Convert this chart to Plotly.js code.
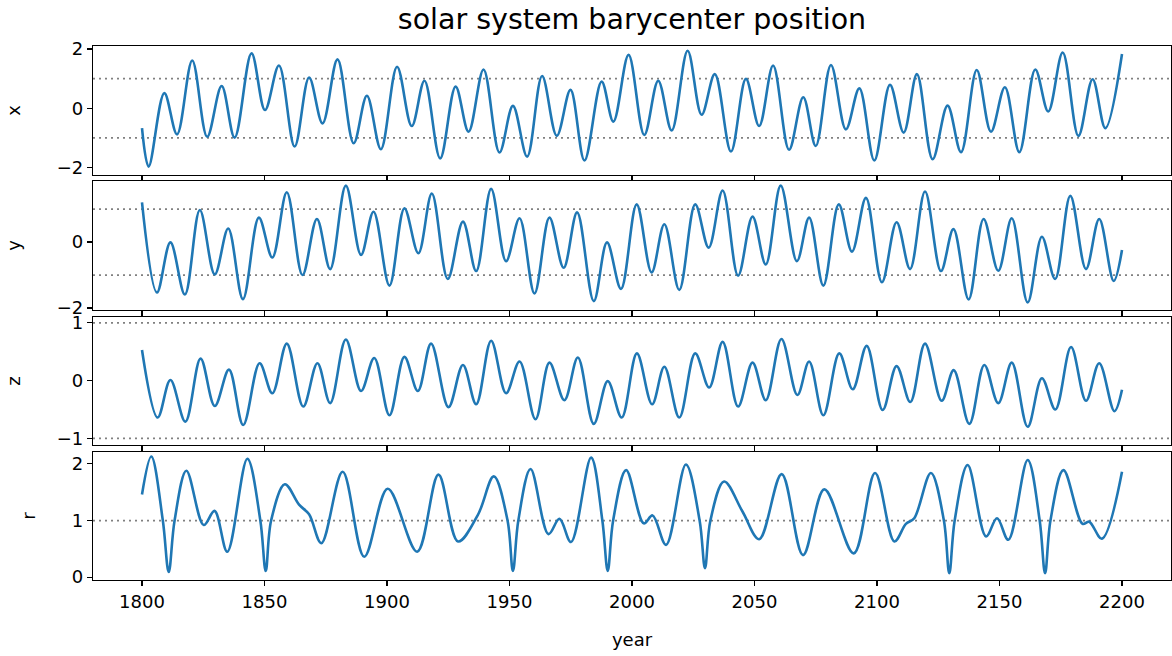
<!DOCTYPE html>
<html>
<head>
<meta charset="utf-8">
<script src="https://cdn.plot.ly/plotly-3.0.1.min.js"></script>
<style>html,body{margin:0;padding:0;background:#fff;}#chart{width:1172px;height:656px;}</style>
</head>
<body>
<div id="chart"></div>
<script>
// ---- data (year, value) ----
const xYears = [1800, 1802.7, 1809.1, 1814.3, 1820.5, 1826.6, 1832.5, 1837.8, 1844.7, 1850.2, 1855.9, 1862.3, 1868.2, 1873.7, 1879.8, 1886.4, 1891.8, 1897.5, 1904.1, 1910.1, 1915.3, 1921.7, 1928.0, 1933.3, 1939.4, 1945.9, 1951.4, 1957.2, 1963.3, 1969.3, 1974.9, 1980.6, 1987.6, 1992.4, 1998.6, 2005.0, 2010.7, 2016.2, 2022.7, 2028.4, 2033.8, 2040.4, 2046.5, 2051.9, 2057.6, 2064.1, 2069.9, 2075.0, 2081.2, 2087.3, 2092.8, 2098.9, 2105.3, 2110.9, 2116.3, 2122.7, 2128.8, 2134.3, 2140.7, 2146.5, 2152.2, 2158.1, 2164.6, 2169.9, 2175.8, 2182.2, 2188.0, 2193.2, 2200];
const xVals = [-0.67, -1.97, 0.51, -0.88, 1.61, -0.96, 0.75, -0.99, 1.85, -0.06, 1.44, -1.29, 1.04, -0.51, 1.65, -1.18, 0.42, -1.38, 1.40, -0.60, 0.93, -1.69, 0.73, -0.79, 1.31, -1.49, 0.08, -1.63, 1.09, -0.93, 0.62, -1.76, 0.90, -0.45, 1.80, -0.90, 0.93, -0.75, 1.94, -0.22, 1.15, -1.46, 0.99, -0.60, 1.44, -1.40, 0.37, -1.27, 1.46, -0.71, 0.67, -1.76, 0.79, -0.82, 1.15, -1.72, 0.09, -1.48, 1.29, -0.79, 0.71, -1.48, 1.31, -0.11, 1.88, -0.93, 0.98, -0.67, 1.83];

const yYears = [1800, 1806.1, 1811.6, 1817.5, 1823.6, 1829.7, 1835.2, 1841.2, 1847.7, 1853.2, 1859.1, 1865.5, 1871.4, 1876.8, 1883.2, 1889.4, 1894.5, 1901.0, 1907.1, 1912.8, 1918.3, 1924.8, 1931.0, 1936.4, 1942.5, 1948.6, 1954.1, 1960.2, 1966.3, 1972.1, 1977.6, 1984.4, 1989.8, 1995.5, 2001.9, 2008.0, 2013.2, 2019.3, 2025.8, 2031.3, 2037.0, 2043.3, 2049.2, 2054.6, 2060.7, 2067.3, 2072.3, 2078.1, 2084.4, 2089.8, 2095.5, 2102.0, 2108.0, 2113.5, 2119.6, 2126.1, 2131.2, 2137.4, 2143.5, 2149.5, 2155.0, 2161.5, 2167.3, 2172.7, 2178.9, 2185.3, 2190.7, 2196.6, 2200];
const yVals = [1.20, -1.53, -0.01, -1.59, 0.97, -0.98, 0.41, -1.73, 0.74, -0.47, 1.51, -1.00, 0.70, -0.82, 1.71, -0.39, 0.92, -1.32, 1.02, -0.34, 1.47, -1.12, 0.62, -0.88, 1.61, -0.58, 0.72, -1.56, 0.74, -0.78, 0.90, -1.79, -0.01, -1.42, 1.14, -0.92, 0.54, -1.45, 1.14, -0.17, 1.56, -1.02, 0.77, -0.68, 1.71, -0.58, 0.74, -1.32, 1.14, -0.29, 1.34, -1.22, 0.60, -0.82, 1.53, -0.88, 0.39, -1.74, 0.70, -0.87, 0.72, -1.83, 0.16, -1.12, 1.40, -0.82, 0.70, -1.18, -0.24];

const zYears = [1800, 1806.4, 1811.6, 1817.7, 1823.9, 1829.7, 1835.5, 1841.3, 1848.0, 1853.2, 1859.1, 1865.8, 1871.6, 1876.8, 1883.2, 1889.4, 1894.8, 1901.0, 1907.1, 1912.6, 1918.0, 1925.1, 1931.0, 1936.4, 1942.5, 1948.6, 1954.1, 1960.6, 1966.3, 1972.4, 1977.9, 1984.4, 1990.1, 1995.8, 2002.0, 2008.2, 2013.2, 2019.3, 2025.8, 2031.5, 2037.0, 2043.3, 2049.2, 2054.6, 2061.0, 2067.5, 2072.3, 2078.1, 2084.6, 2090.1, 2095.8, 2102.3, 2108.0, 2113.6, 2119.6, 2126.4, 2131.3, 2137.7, 2143.8, 2149.5, 2155.0, 2161.5, 2167.3, 2172.8, 2179.2, 2185.3, 2190.7, 2196.9, 2200];
const zVals = [0.53, -0.64, 0.01, -0.71, 0.38, -0.44, 0.19, -0.77, 0.30, -0.22, 0.64, -0.45, 0.30, -0.39, 0.71, -0.18, 0.39, -0.60, 0.41, -0.18, 0.64, -0.46, 0.27, -0.41, 0.69, -0.22, 0.33, -0.67, 0.31, -0.34, 0.40, -0.75, -0.01, -0.64, 0.47, -0.41, 0.24, -0.64, 0.47, -0.12, 0.67, -0.45, 0.31, -0.34, 0.72, -0.25, 0.33, -0.60, 0.47, -0.15, 0.60, -0.51, 0.25, -0.37, 0.64, -0.35, 0.18, -0.75, 0.27, -0.39, 0.31, -0.80, 0.04, -0.50, 0.58, -0.35, 0.30, -0.53, -0.16];

const rYears = [1800, 1803.8, 1808.5, 1810.9, 1813.3, 1818.1, 1825.2, 1829.6, 1834.8, 1843.0, 1848.3, 1850.5, 1852.7, 1858.3, 1864.1, 1868.2, 1873.2, 1881.9, 1890.7, 1900.3, 1912.3, 1921.0, 1929.0, 1937.1, 1943.6, 1949.2, 1951.4, 1953.6, 1958.6, 1965.9, 1970.4, 1975.1, 1983.3, 1987.9, 1990.1, 1992.3, 1997.6, 2004.8, 2008.4, 2013.9, 2022.0, 2027.6, 2029.8, 2032.0, 2037.6, 2045.1, 2051.9, 2061.1, 2069.8, 2078.5, 2090.5, 2099.2, 2107.1, 2111.8, 2115.2, 2122.0, 2127.3, 2129.5, 2131.7, 2137.0, 2144.5, 2149.0, 2153.6, 2161.5, 2166.4, 2168.6, 2170.8, 2176.1, 2183.9, 2186.6, 2191.8, 2200];
const rVals = [1.46, 2.13, 1.0, 0.09, 1.0, 1.88, 0.92, 1.17, 0.45, 2.09, 1.0, 0.11, 1.0, 1.64, 1.28, 1.11, 0.60, 1.86, 0.36, 1.56, 0.45, 1.81, 0.63, 1.10, 1.78, 1.0, 0.11, 1.0, 1.91, 0.76, 1.03, 0.62, 2.11, 1.0, 0.11, 1.0, 1.89, 0.95, 1.09, 0.57, 1.99, 1.0, 0.16, 1.0, 1.69, 1.16, 0.67, 1.82, 0.39, 1.55, 0.42, 1.84, 0.63, 0.94, 1.04, 1.84, 1.0, 0.07, 1.0, 1.98, 0.72, 1.04, 0.66, 2.07, 1.0, 0.07, 1.0, 1.89, 0.94, 0.98, 0.68, 1.86];

const panelNames = ['x', 'y', 'z', 'r'];
const refLines = [[-1, 1], [-1, 1], [-1, 1], [1]];
const yTicks = [[-2, 0, 2], [-2, 0, 2], [-1, 0, 1], [0, 1, 2]];
const yRanges = [[-2.25, 2.10], [-2.06, 1.85], [-1.115, 1.10], [-0.05, 2.21]];
const yearTicks = [1800, 1850, 1900, 1950, 2000, 2050, 2100, 2150, 2200];
const titleText = 'solar system barycenter position';
const xTitle = 'year';

// ---- drawing ----
const W = 1172, H = 656;
const FONT = 'DejaVu Sans, sans-serif';
const BLUE = '#1f77b4';
const TICK = 18;
const panelsPx = [[46, 175], [181, 310], [317, 445], [452, 580]];
const xs = [xYears, yYears, zYears, rYears];
const ys = [xVals, yVals, zVals, rVals];

const traces = [];
const layout = {
  width: W, height: H,
  margin: {l: 0, r: 0, t: 0, b: 0},
  paper_bgcolor: '#fff', plot_bgcolor: '#fff',
  showlegend: false,
  font: {family: FONT, size: TICK, color: '#000'},
  title: {text: titleText, x: 632 / W, xanchor: 'center', y: 1 - 19 / H, yanchor: 'middle', font: {family: FONT, size: 28.5, color: '#000'}},
  shapes: []
};

for (let i = 0; i < 4; i++) {
  const n = i === 0 ? '' : String(i + 1);
  traces.push({
    x: xs[i], y: ys[i], xaxis: 'x' + n, yaxis: 'y' + n,
    type: 'scatter', mode: 'lines',
    line: {color: BLUE, width: 2.6, shape: 'spline', smoothing: 1},
    hoverinfo: 'skip'
  });
  const [top, bot] = panelsPx[i];
  const axCommon = {
    showline: true, mirror: true, linecolor: '#000', linewidth: 1.2,
    ticks: 'outside', ticklen: 5, tickwidth: 1.2, tickcolor: '#000',
    showgrid: false, zeroline: false
  };
  layout['xaxis' + n] = Object.assign({}, axCommon, {
    domain: [93 / W, 1171 / W], anchor: 'y' + n,
    range: [1780, 2220], tickvals: yearTicks,
    showticklabels: i === 3,
    tickfont: {family: FONT, size: TICK, color: '#000'},
    title: i === 3 ? {text: xTitle, standoff: 22, font: {family: FONT, size: TICK, color: '#000'}} : {text: ''}
  });
  if (i > 0) layout['xaxis' + n].matches = 'x';
  layout['yaxis' + n] = Object.assign({}, axCommon, {
    domain: [1 - bot / H, 1 - top / H], anchor: 'x' + n,
    range: yRanges[i], tickvals: yTicks[i],
    tickfont: {family: FONT, size: TICK, color: '#000'},
    title: {text: panelNames[i], standoff: 31, font: {family: FONT, size: TICK, color: '#000'}}
  });
  refLines[i].forEach(v => {
    layout.shapes.push({
      type: 'line', xref: 'x' + n + ' domain', yref: 'y' + n,
      x0: 0, x1: 1, y0: v, y1: v, layer: 'below',
      line: {color: '#808080', width: 1.8, dash: '2px,4px'}
    });
  });
}

Plotly.newPlot('chart', traces, layout, {staticPlot: true, displayModeBar: false});
</script>
</body>
</html>
